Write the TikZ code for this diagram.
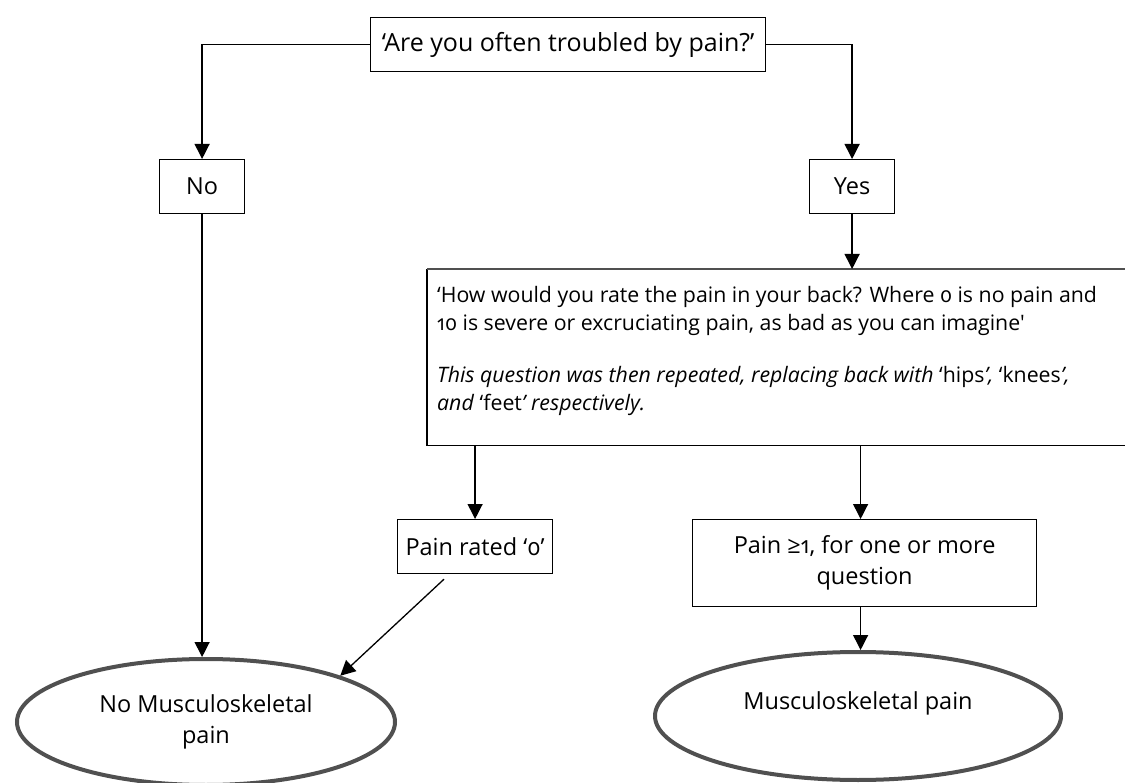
\documentclass[tikz,border=0pt]{standalone}
\usepackage{fontspec}
\setmainfont{Open Sans}[Numbers=OldStyle]
\usetikzlibrary{arrows.meta,shapes.geometric}
\definecolor{ovalgray}{RGB}{80,80,80}
\begin{document}
\begin{tikzpicture}[x=1pt,y=-1pt,
  txt/.style={font=\fontsize{23.5}{31}\selectfont},
  box/.style={txt,draw=black,line width=1.2pt,align=center,inner sep=0pt,anchor=north west},
  oval/.style={txt,ellipse,draw=ovalgray,line width=4pt,align=center,inner sep=0pt},
  link/.style={line width=1.3pt,-{Triangle[length=15pt,width=15pt]}}]
\useasboundingbox (0,0) rectangle (1125,783);

% question boxes
\node[box,font=\fontsize{25}{31}\selectfont,minimum width=395pt,minimum height=54pt] (ask) at (370,17) {‘Are you often troubled by pain?’};
\node[box,minimum width=85pt,minimum height=54pt] (no) at (159,159) {No};
\node[box,minimum width=85pt,minimum height=54pt] (yes) at (809,159) {Yes};

% rating question (open on the right)
\node[anchor=north west,minimum width=698pt,minimum height=176pt,inner sep=0pt] (rate) at (427,269) {};
\node[anchor=north west,align=left,inner sep=0pt,font=\fontsize{21.3}{28}\selectfont] (ratetext) at (437,286)
  {‘How would you rate the pain in your back? Where 0 is no pain and\\
   10 is severe or excruciating pain, as bad as you can imagine\textquotesingle\\[24pt]
   \textit{This question was then repeated, replacing back with} ‘hips\textit{’,} ‘knees\textit{’,}\\
   \textit{and} ‘feet\textit{’ respectively.}};
\draw[line width=1.2pt] (rate.north west) -- (rate.south west) -- (rate.south east);
\draw[line width=2pt,ovalgray] (rate.north west) -- (rate.north east);

% answers
\node[box,minimum width=155pt,minimum height=54pt] (zero) at (397,519) {Pain rated ‘0’};
\node[box,minimum width=344pt,minimum height=87pt] (some) at (692,519) {Pain ≥1, for one or more\\question};

% outcomes
\node[oval,minimum width=378pt,minimum height=126pt] (nomsk) at (206,722) {No Musculoskeletal\\pain};
\node[oval,minimum width=406pt,minimum height=128pt] (msk) at (858,716) {Musculoskeletal pain\\\mbox{}};

% connectors
\draw[link] (ask.west) -| (no.north);
\draw[link] (ask.east) -| (yes.north);
\draw[link] (yes.south) -- (yes.south |- rate.north);
\draw[link] (zero.north |- rate.south) -- (zero.north);
\draw[link] ([xshift=-4pt]some.north |- rate.south) -- ([xshift=-4pt]some.north);
\draw[link] (no.south) -- (no.south |- nomsk.north);
\draw[link] ([xshift=-4pt]some.south) -- ([xshift=-4pt]some.south |- msk.north);
\draw[link] ([xshift=47pt,yshift=-5pt]zero.south west) -- (nomsk.19);
\end{tikzpicture}
\end{document}
